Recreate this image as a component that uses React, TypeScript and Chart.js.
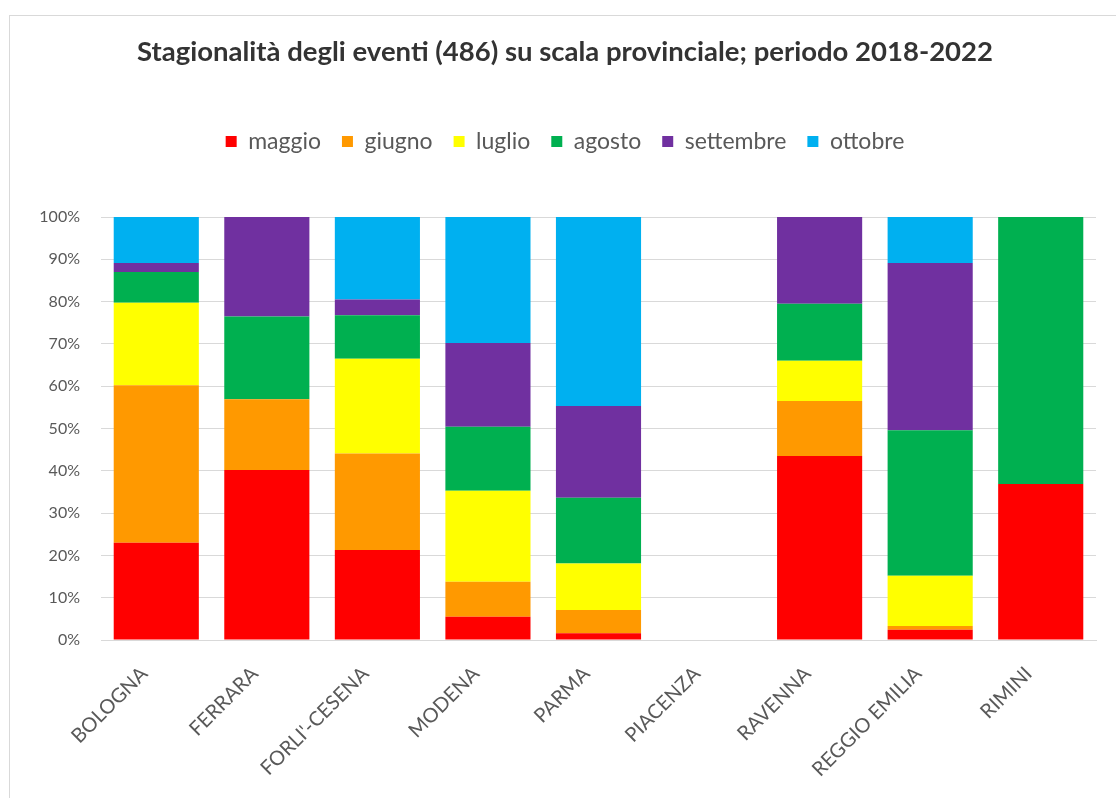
import React, { useEffect, useRef } from "react";
import { Chart, registerables } from "chart.js";

Chart.register(...registerables);

const categories = ["BOLOGNA", "FERRARA", "FORLI'-CESENA", "MODENA", "PARMA", "PIACENZA", "RAVENNA", "REGGIO EMILIA", "RIMINI"];
const maggio = [23.0, 40.2, 21.3, 5.5, 1.6, 0, 43.5, 2.4, 36.9];
const giugno = [37.2, 16.7, 22.8, 8.3, 5.5, 0, 13.0, 0.9, 0];
const luglio = [19.5, 0, 22.4, 21.5, 11.0, 0, 9.5, 11.9, 0];
const agosto = [7.3, 19.6, 10.3, 15.1, 15.5, 0, 13.5, 34.4, 63.1];
const settembre = [2.1, 23.5, 3.7, 19.8, 21.7, 0, 20.5, 39.5, 0];
const ottobre = [10.9, 0, 19.5, 29.8, 44.7, 0, 0, 10.9, 0];
const yTicks = [0, 10, 20, 30, 40, 50, 60, 70, 80, 90, 100];

const FONT = "Lato";
const LEGEND_EXTRA = 54;

const legendSpacer = {
  id: "legendSpacer",
  beforeLayout(chart: any) {
    const lg = chart.legend;
    if (lg && !lg._spaced) {
      const orig = lg.fit;
      lg.fit = function (this: any) {
        orig.call(this);
        this.height += LEGEND_EXTRA;
      };
      lg._spaced = true;
    }
  },
};

export default function App() {
  const ref = useRef<HTMLCanvasElement>(null);
  useEffect(() => {
    if (!ref.current) return;
    const mk = (label: string, data: number[], color: string) => ({
      label,
      data,
      backgroundColor: color,
      borderWidth: 0,
      barPercentage: 0.77,
      categoryPercentage: 1,
    });
    const chart = new Chart(ref.current, {
      type: "bar",
      data: {
        labels: categories,
        datasets: [
          mk("maggio", maggio, "#FF0000"),
          mk("giugno", giugno, "#FF9900"),
          mk("luglio", luglio, "#FFFF00"),
          mk("agosto", agosto, "#00B050"),
          mk("settembre", settembre, "#7030A0"),
          mk("ottobre", ottobre, "#00B0F0"),
        ],
      },
      plugins: [legendSpacer],
      options: {
        animation: false,
        responsive: true,
        maintainAspectRatio: false,
        layout: { padding: { left: 24, right: 20, top: 0, bottom: 0 } },
        plugins: {
          title: {
            display: true,
            text: "Stagionalità degli eventi (486) su scala provinciale; periodo 2018-2022",
            color: "#333333",
            font: { family: FONT, size: 27.5, weight: "bold" },
            padding: { top: 20, bottom: 40 },
          },
          legend: {
            display: true,
            position: "top",
            labels: {
              color: "#595959",
              font: { family: FONT, size: 23 },
              boxWidth: 11,
              boxHeight: 11,
              padding: 21,
            },
          },
          tooltip: { enabled: false },
        },
        scales: {
          x: {
            stacked: true,
            grid: { display: false },
            border: { display: true, color: "#d9d9d9" },
            ticks: {
              color: "#595959",
              font: { family: FONT, size: 20 },
              minRotation: 45,
              maxRotation: 45,
              padding: 14,
              labelOffset: -12,
              autoSkip: false,
            },
            afterFit: (scale: any) => {
              scale.height = 158;
            },
          },
          y: {
            stacked: true,
            min: 0,
            max: 100,
            afterBuildTicks: (scale: any) => {
              scale.ticks = yTicks.map((v) => ({ value: v }));
            },
            grid: { color: "#d9d9d9", drawTicks: false },
            border: { display: false },
            ticks: {
              color: "#595959",
              font: { family: FONT, size: 16 },
              padding: 21,
              callback: (v: any) => v + "%",
            },
            afterFit: (scale: any) => {
              scale.width = 67;
            },
          },
        },
      },
    });
    return () => chart.destroy();
  }, []);
  return (
    <div
      style={{
        position: "fixed",
        left: 9,
        top: 15,
        right: 0,
        bottom: 0,
        borderTop: "1px solid #d9d9d9",
        borderLeft: "1px solid #d9d9d9",
        background: "#fff",
        boxSizing: "border-box",
      }}
    >
      <canvas ref={ref} />
    </div>
  );
}
